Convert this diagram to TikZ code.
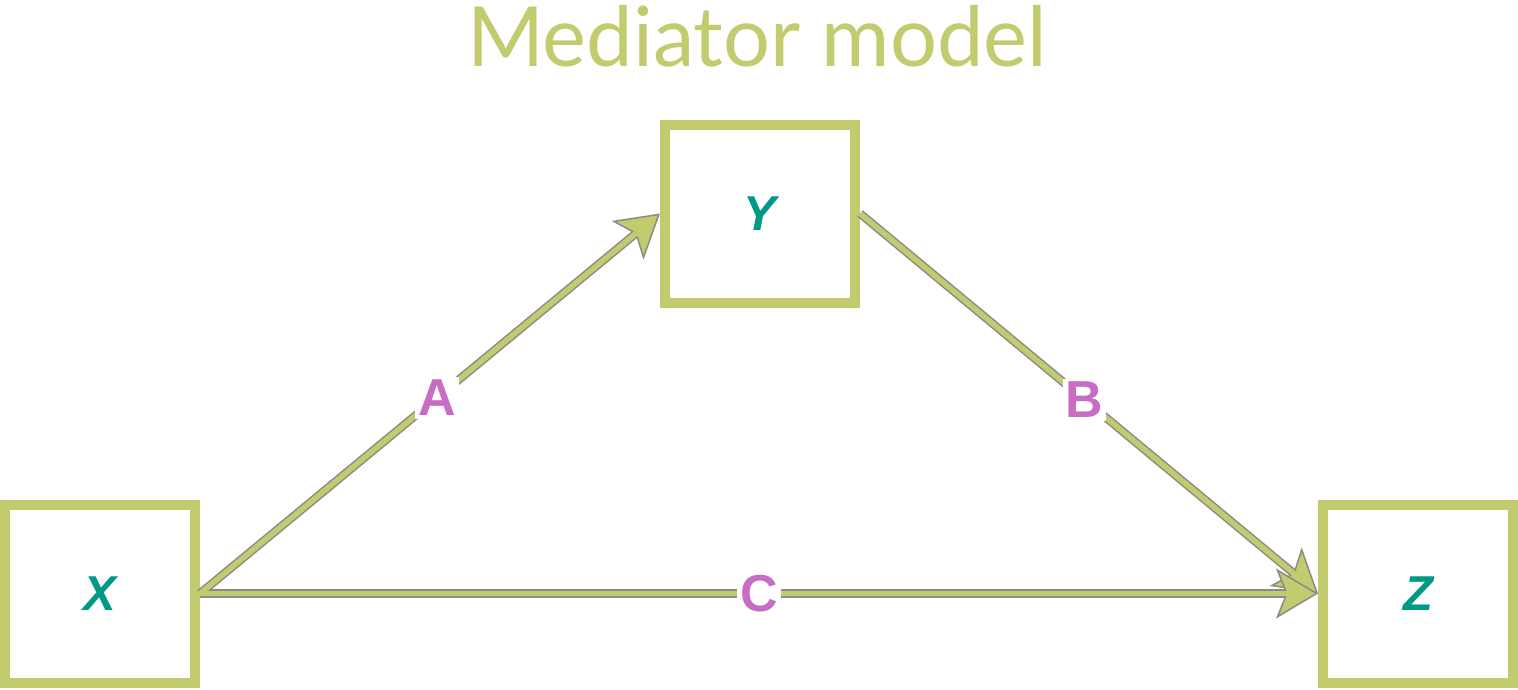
\documentclass[tikz,border=0pt]{standalone}
\usepackage{fontspec}
\setmainfont{Lato}
\newfontfamily\arialfont{Liberation Sans}
\usetikzlibrary{arrows.meta}
\definecolor{mgreen}{HTML}{C3CB6F}
\definecolor{mteal}{HTML}{009985}
\definecolor{mpink}{HTML}{C76DC3}
\definecolor{mgray}{HTML}{8A8A8A}
\tikzset{
  varbox/.style={draw=mgreen, line width=10pt, minimum width=190pt, minimum height=178pt, inner sep=0pt,
    font=\arialfont\bfseries\itshape\fontsize{49}{49}\selectfont, text=mteal},
  edgeouter/.style={draw=mgray, line width=8.5pt,
    -{Stealth[length=42pt,width=50pt,inset=10pt,fill=mgreen,line width=1.5pt]}},
  edgeinner/.style={draw=mgreen, line width=5.5pt, shorten >=30pt},
  edgelabel/.style={fill=white, inner sep=3pt, text=mpink,
    font=\arialfont\bfseries\fontsize{52}{52}\selectfont},
}
\begin{document}
\begin{tikzpicture}[x=1pt,y=-1pt]
\useasboundingbox (0,0) rectangle (1518,689);
\node[text=mgreen, font=\fontsize{83}{83}\selectfont] (title) at (757,36) {Mediator model};
\node[varbox] (x) at (100,593.5) {X};
\node[varbox] (y) at (760,213.5) {Y};
\node[varbox] (z) at (1418,593.5) {Z};
\draw[edgeouter] (x.east) -- (y.west);
\draw[edgeouter] (y.east) -- (z.west);
\draw[edgeouter] (x.east) -- (z.west);
\draw[edgeinner] (x.east) -- (y.west);
\draw[edgeinner] (y.east) -- (z.west);
\draw[edgeinner] (x.east) -- (z.west);
\path (x.east) -- (y.west) node[edgelabel, pos=0.515] (la) {A};
\path (y.east) -- (z.west) node[edgelabel, pos=0.49] (lb) {B};
\path (x.east) -- (z.west) node[edgelabel, pos=0.5] (lc) {C};
\end{tikzpicture}
\end{document}
